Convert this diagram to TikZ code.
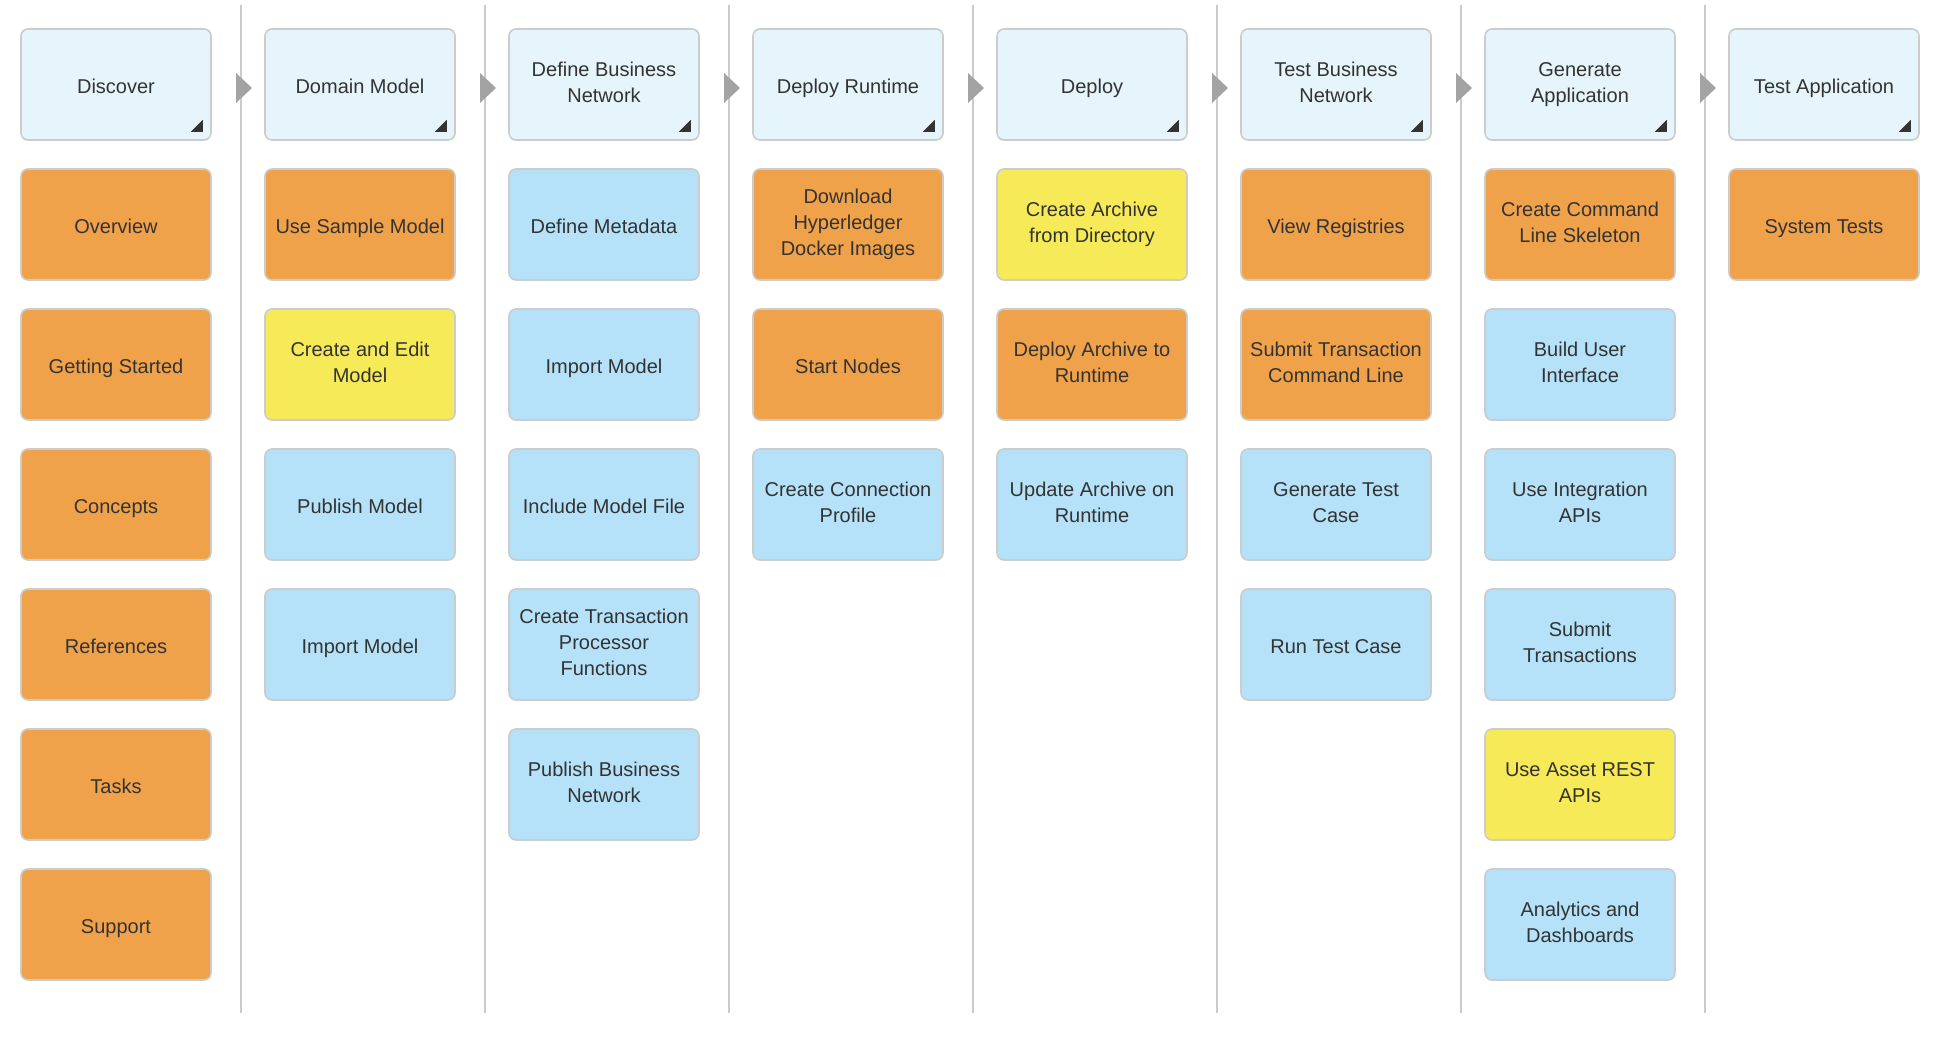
\documentclass[tikz,border=0pt]{standalone}
\usepackage{fontspec}
\setmainfont{Liberation Sans}
\usepackage{tikz}
\usetikzlibrary{positioning}
\definecolor{hdblue}{HTML}{E6F4FC}
\definecolor{tkorange}{HTML}{F0A24A}
\definecolor{tkyellow}{HTML}{F7EA58}
\definecolor{tkblue}{HTML}{B5E2F8}
\definecolor{boxline}{HTML}{CCCCCC}
\definecolor{sepline}{HTML}{CCCCCC}
\definecolor{arrowgray}{HTML}{A3A3A3}
\definecolor{txtdark}{HTML}{333333}

\tikzset{
  card/.style={draw=boxline, line width=0.8pt, rectangle, rounded corners=3.5pt,
    minimum width=95pt, minimum height=55.5pt, inner sep=0pt, align=center,
    text=txtdark, font=\fontsize{10}{13}\selectfont,
    execute at begin node=\rule{0pt}{11.2pt}, execute at end node=\vphantom{g}},
  header/.style={card, fill=hdblue},
  orange/.style={card, fill=tkorange},
  yellow/.style={card, fill=tkyellow},
  blue/.style={card, fill=tkblue},
}

\begin{document}
\begin{tikzpicture}[x=0.5pt, y=-0.5pt]
    \useasboundingbox (0,0) rectangle (1946,1044);

    % column separators and step arrows
    \foreach \s in {241,485,729,973,1217,1461,1705} {
      \draw[sepline, line width=0.8pt] (\s,5) -- (\s,1013);
      \fill[arrowgray] (\s-5,73) -- (\s+11,88) -- (\s-5,103) -- cycle;
    }

    % headers
    \node[header] (discover) at (116,84.5) {Discover};
    \node[header] (domain) at (360,84.5) {Domain Model};
    \node[header] (define) at (604,84.5) {Define Business\\Network};
    \node[header] (runtime) at (848,84.5) {Deploy Runtime};
    \node[header] (deploy) at (1092,84.5) {Deploy};
    \node[header] (testbn) at (1336,84.5) {Test Business\\Network};
    \node[header] (genapp) at (1580,84.5) {Generate\\Application};
    \node[header] (testapp) at (1824,84.5) {Test Application};

    \foreach \n in {discover,domain,define,runtime,deploy,testbn,genapp,testapp}
      \fill[txtdark] ([xshift=-4.5pt,yshift=4.5pt]\n.south east) -- ++(-6pt,0pt) -- ++(6pt,6pt) -- cycle;

    % Discover
    \node[orange] (overview) at (116,224.5) {Overview};
    \node[orange] (started) at (116,364.5) {Getting Started};
    \node[orange] (concepts) at (116,504.5) {Concepts};
    \node[orange] (references) at (116,644.5) {References};
    \node[orange] (tasks) at (116,784.5) {Tasks};
    \node[orange] (support) at (116,924.5) {Support};

    % Domain Model
    \node[orange] (sample) at (360,224.5) {Use Sample Model};
    \node[yellow] (editmodel) at (360,364.5) {Create and Edit\\Model};
    \node[blue] (pubmodel) at (360,504.5) {Publish Model};
    \node[blue] (impmodel) at (360,644.5) {Import Model};

    % Define Business Network
    \node[blue] (metadata) at (604,224.5) {Define Metadata};
    \node[blue] (impmodelb) at (604,364.5) {Import Model};
    \node[blue] (inclfile) at (604,504.5) {Include Model File};
    \node[blue] (txfunc) at (604,644.5) {Create Transaction\\Processor\\Functions};
    \node[blue] (pubnet) at (604,784.5) {Publish Business\\Network};

    % Deploy Runtime
    \node[orange] (docker) at (848,224.5) {Download\\Hyperledger\\Docker Images};
    \node[orange] (nodes) at (848,364.5) {Start Nodes};
    \node[blue] (profile) at (848,504.5) {Create Connection\\Profile};

    % Deploy
    \node[yellow] (archive) at (1092,224.5) {Create Archive\\from Directory};
    \node[orange] (deparch) at (1092,364.5) {Deploy Archive to\\Runtime};
    \node[blue] (updarch) at (1092,504.5) {Update Archive on\\Runtime};

    % Test Business Network
    \node[orange] (registries) at (1336,224.5) {View Registries};
    \node[orange] (submitcl) at (1336,364.5) {Submit Transaction\\Command Line};
    \node[blue] (gentest) at (1336,504.5) {Generate Test\\Case};
    \node[blue] (runtest) at (1336,644.5) {Run Test Case};

    % Generate Application
    \node[orange] (skeleton) at (1580,224.5) {Create Command\\Line Skeleton};
    \node[blue] (ui) at (1580,364.5) {Build User\\Interface};
    \node[blue] (intapi) at (1580,504.5) {Use Integration\\APIs};
    \node[blue] (submittx) at (1580,644.5) {Submit\\Transactions};
    \node[yellow] (restapi) at (1580,784.5) {Use Asset REST\\APIs};
    \node[blue] (analytics) at (1580,924.5) {Analytics and\\Dashboards};

    % Test Application
    \node[orange] (systests) at (1824,224.5) {System Tests};
  \end{tikzpicture}
\end{document}
